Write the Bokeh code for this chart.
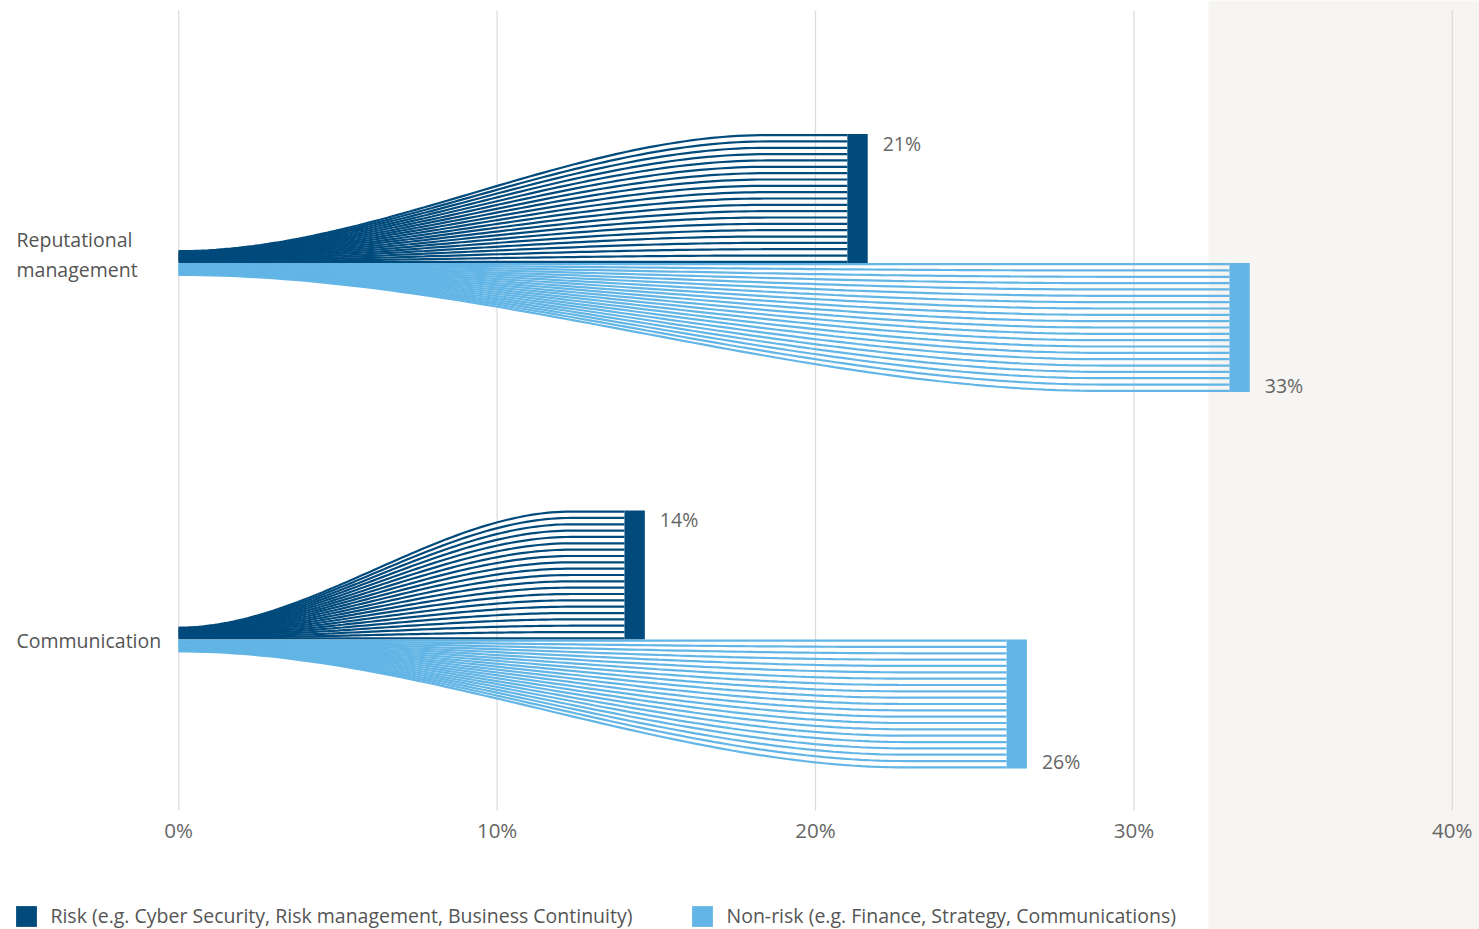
import numpy as np
from bokeh.plotting import figure
from bokeh.models import (Range1d, Label, BoxAnnotation, Legend, LegendItem,
                          ColumnDataSource)
from bokeh.core.properties import value
from bokeh.embed import file_html
from bokeh.resources import INLINE

# ---- data -------------------------------------------------------------
categories = ["Reputational management", "Communication"]
category_lines = [["Reputational", "management"], ["Communication"]]
risk = [21, 14]          # % share, risk functions
non_risk = [33, 26]      # % share, non-risk functions
x_ticks = [0, 10, 20, 30, 40]
tick_labels = ["0%", "10%", "20%", "30%", "40%"]
series_names = ["Risk (e.g. Cyber Security, Risk management, Business Continuity)",
                "Non-risk (e.g. Finance, Strategy, Communications)"]

# ---- styling ----------------------------------------------------------
DARK = "#004a7c"
LIGHT = "#62b5e5"
FONT = "Open Sans"
TEXT = "#555555"
TICK_TEXT = "#666666"

W, H = 1479, 929
X0_PX = 178.2              # canvas x of 0%
PX_PER_PCT = 31.84         # canvas pixels per percentage point
PX = 376.5                 # canvas pixels per category step on the y axis
CAT0_PX = 639              # canvas y of the lower category centre
cat_y = [1.0, 0.0]         # category centres (top to bottom)
band = 129 / PX            # height of a fully fanned bar
stub = 13 / PX             # height of the bundle at 0%
n_strands = 21
strand_w = 2.2
ease_end = 0.88            # fraction of the bar length where the fan levels off
cap_w = 0.64               # width of the solid end block, in %


def ypx(py):
    """canvas pixel row -> y data value"""
    return (CAT0_PX - py) / PX


x_range = Range1d(-X0_PX / PX_PER_PCT, (W - X0_PX) / PX_PER_PCT)
y_range = Range1d(ypx(H), ypx(0))

p = figure(width=W, height=H, output_backend="svg", toolbar_location=None,
           x_range=x_range, y_range=y_range, min_border=0)
p.outline_line_color = None
p.background_fill_color = "white"
p.border_fill_color = "white"
p.axis.visible = False
p.grid.visible = False

# textured panel on the right
p.add_layout(BoxAnnotation(left=1208, right=W + 5, top=-5, bottom=H + 5,
                           left_units="canvas", right_units="canvas",
                           top_units="canvas", bottom_units="canvas",
                           fill_color="#f6f5f3", fill_alpha=1.0,
                           line_color=None, level="image"))

# vertical guide lines and their percentage labels
p.segment(x0=x_ticks, x1=x_ticks, y0=[ypx(10)] * len(x_ticks),
          y1=[ypx(810)] * len(x_ticks), line_color="#dcdcdc", line_width=1.3)
p.text(x=x_ticks, y=[ypx(829)] * len(x_ticks), text=tick_labels,
       text_font=value(FONT), text_font_size="20.5px", text_color=TICK_TEXT,
       text_align="center", text_baseline="middle")


def smoothstep(t):
    t = np.clip(t, 0, 1)
    return t * t * (3 - 2 * t)


def strands(v, centre, sign):
    """Fan of strands from a thin bundle at 0% out to the full bar height."""
    xs, ys = [], []
    x = np.concatenate([np.linspace(0, ease_end * v, 80), [v]])
    half = strand_w / 2 / PX
    for k in range(n_strands):
        y0 = centre + sign * (half + k * (stub - 2 * half) / (n_strands - 1))
        y1 = centre + sign * (half + k * (band - 2 * half) / (n_strands - 1))
        y = y0 + (y1 - y0) * smoothstep(x / (ease_end * v))
        xs.append(x.tolist())
        ys.append(y.tolist())
    return xs, ys


cap_renderers = []
for values, sign, colour in [(risk, 1, DARK), (non_risk, -1, LIGHT)]:
    mx, my = [], []
    for v, c in zip(values, cat_y):
        xs, ys = strands(v, c, sign)
        mx += xs
        my += ys
    p.multi_line(xs=mx, ys=my, line_color=colour, line_width=strand_w)

    caps = ColumnDataSource(dict(
        left=list(values),
        right=[v + cap_w for v in values],
        bottom=[c if sign > 0 else c - band for c in cat_y],
        top=[c + band if sign > 0 else c for c in cat_y],
    ))
    cap_renderers.append(p.quad(left="left", right="right", bottom="bottom", top="top",
                                source=caps, fill_color=colour, line_color=None))

    # value labels beside each end block
    for v, c in zip(values, cat_y):
        y = c + band - 9 / PX if sign > 0 else c - band + 7 / PX
        p.add_layout(Label(x=v + cap_w, y=y, x_offset=15, text=f"{v}%",
                           text_font=FONT, text_font_size="19.5px",
                           text_color=TICK_TEXT, text_baseline="middle"))

# category labels, left aligned near the page edge
for lines, c in zip(category_lines, cat_y):
    offsets = [-0.5] if len(lines) == 1 else [23.5, -6.5]
    for txt, off in zip(lines, offsets):
        p.add_layout(Label(x=16, x_units="canvas", y=c + off / PX, text=txt,
                           text_font=FONT, text_font_size="19.5px",
                           text_color=TEXT, text_baseline="middle"))

legend = Legend(items=[LegendItem(label=series_names[0], renderers=[cap_renderers[0]]),
                       LegendItem(label=series_names[1], renderers=[cap_renderers[1]])],
                orientation="horizontal", location=(13.4, 0),
                glyph_width=26, glyph_height=26, label_height=26,
                label_standoff=11, spacing=57, padding=0, margin=0,
                label_text_font=FONT, label_text_font_size="19.5px",
                label_text_color=TEXT, border_line_color=None,
                background_fill_alpha=0)
p.add_layout(legend, "center")

open("out.html", "w").write(file_html(p, INLINE))
